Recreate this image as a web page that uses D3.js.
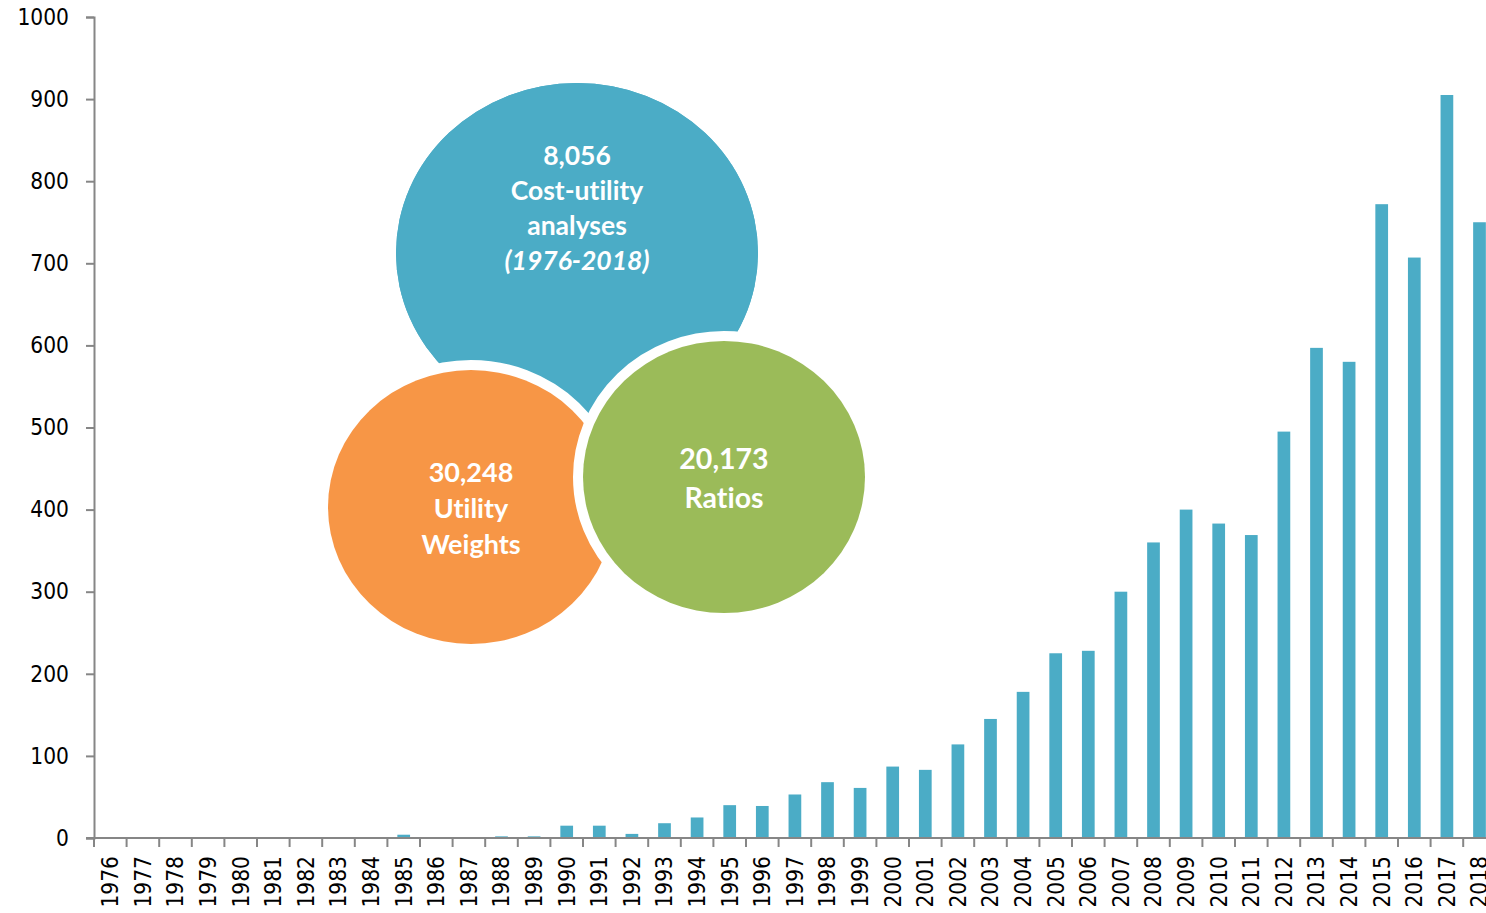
<!DOCTYPE html>
<html>
<head>
<meta charset="utf-8">
<script src="https://cdn.jsdelivr.net/npm/d3@7"></script>
<style>
  body { margin: 0; background: #fff; }
  svg { display: block; }
  .axis text { font-family: "DejaVu Sans Condensed", "DejaVu Sans"; font-stretch: condensed; font-size: 22.5px; fill: #000; }
  .bubble-text { font-variant-ligatures: none; }
</style>
</head>
<body>
<div id="chart"></div>
<script>
var width = 1486;
var height = 913;
var margin = { top: 17, right: -10, bottom: 75, left: 94 };

// publications per year
const years = d3.range(1976, 2019).map(String);
const counts = [0, 0, 0, 0, 1, 0, 0, 0, 0, 4, 1, 0, 2, 2, 15,
                15, 5, 18, 25, 40, 39, 53, 68, 61, 87, 83, 114, 145, 178, 225,
                228, 300, 360, 400, 383, 369, 495, 597, 580, 772, 707, 905, 750];
const yTicks = [0, 100, 200, 300, 400, 500, 600, 700, 800, 900, 1000];

// summary bubbles
const bubbleNames = ["cua", "weights", "ratios"];
const bubbleColors = ["#4BACC6", "#F79646", "#9BBB59"];
const bubbleLines = [
  ["8,056", "Cost-utility", "analyses", "(1976-2018)"],
  ["30,248", "Utility", "Weights"],
  ["20,173", "Ratios"]
];

const svg = d3.select("#chart").append("svg")
  .attr("width", width)
  .attr("height", height);

const x = d3.scaleBand()
  .domain(years)
  .range([margin.left, margin.left + 43 * 32.6])
  .paddingInner(0.61)
  .paddingOuter(0.305);

const y = d3.scaleLinear()
  .domain([0, 1000])
  .range([838, margin.top]);

// bars
svg.append("g")
  .selectAll("rect")
  .data(years)
  .join("rect")
  .attr("x", d => x(d))
  .attr("width", x.bandwidth())
  .attr("y", (d, i) => y(counts[i]))
  .attr("height", (d, i) => y(0) - y(counts[i]))
  .attr("fill", "#4BACC6");

// y axis
const yAxis = svg.append("g")
  .attr("class", "axis")
  .attr("transform", `translate(${margin.left},0)`)
  .call(d3.axisLeft(y).tickValues(yTicks).tickFormat(d3.format("d"))
    .tickSize(8).tickPadding(17).tickSizeOuter(8));
yAxis.selectAll("path.domain, line")
  .attr("stroke", "#868686").attr("stroke-width", 2);

// x axis, ticks sit between the bands
const step = x.step();
const gap = (step - x.bandwidth()) / 2;
const xAxis = svg.append("g")
  .attr("class", "axis")
  .attr("transform", `translate(0,${y(0)})`);
xAxis.append("line")
  .attr("x1", margin.left - 8).attr("x2", width)
  .attr("stroke", "#868686").attr("stroke-width", 2);
xAxis.selectAll("line.tick")
  .data(years)
  .join("line")
  .attr("class", "tick")
  .attr("x1", d => x(d) - gap)
  .attr("x2", d => x(d) - gap)
  .attr("y1", 0).attr("y2", 9)
  .attr("stroke", "#868686").attr("stroke-width", 2);
xAxis.selectAll("text")
  .data(years)
  .join("text")
  .attr("transform", d => `translate(${x(d) + x.bandwidth() / 2},18) rotate(-90)`)
  .attr("text-anchor", "end")
  .attr("dy", "0.35em")
  .text(d => d);

// bubbles
const bubbleGeo = {
  cua: { cx: 577, cy: 253, rx: 181, ry: 170 },
  weights: { cx: 471, cy: 507, rx: 143, ry: 137 },
  ratios: { cx: 724, cy: 477, rx: 141, ry: 136 }
};
const g = svg.append("g");
bubbleNames.forEach((name, i) => {
  const b = bubbleGeo[name];
  g.append("ellipse")
    .attr("cx", b.cx).attr("cy", b.cy)
    .attr("rx", b.rx).attr("ry", b.ry)
    .attr("fill", bubbleColors[i])
    .attr("stroke", i === 0 ? "none" : "#fff")
    .attr("stroke-width", 20);
  g.append("ellipse")
    .attr("cx", b.cx).attr("cy", b.cy)
    .attr("rx", b.rx).attr("ry", b.ry)
    .attr("fill", bubbleColors[i]);
});

function bubbleText(lines, cx, y0, lh, size) {
  const t = g.append("text")
    .attr("class", "bubble-text")
    .attr("text-anchor", "middle")
    .attr("font-family", "Lato")
    .attr("font-weight", "bold")
    .attr("font-size", size)
    .attr("fill", "#fff");
  lines.forEach((l, i) => {
    t.append("tspan")
      .attr("x", cx)
      .attr("y", y0 + i * lh)
      .attr("font-style", l.startsWith("(") ? "italic" : null)
      .text(l);
  });
}
bubbleText(bubbleLines[0], 577, 165, 35, 26.5);
bubbleText(bubbleLines[1], 471, 482, 36, 27);
bubbleText(bubbleLines[2], 724, 469, 39, 28.5);
</script>
</body>
</html>
